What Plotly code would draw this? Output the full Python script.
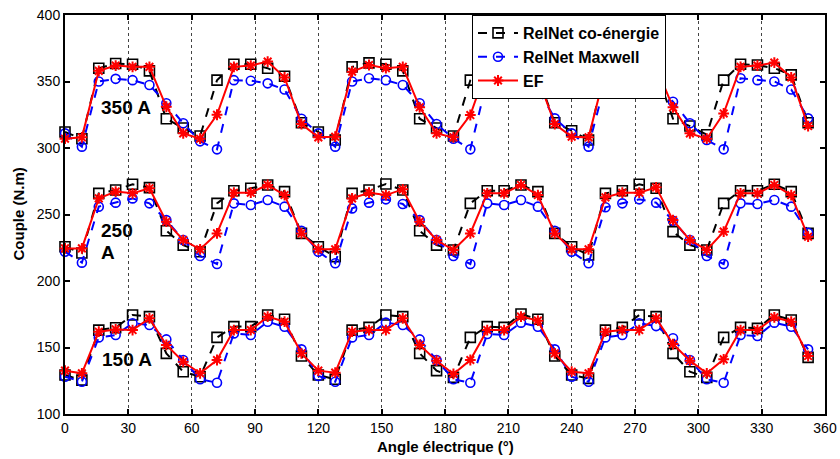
import plotly.graph_objects as go

angles = [0, 8, 16, 24, 32, 40, 48, 56, 64, 72, 80, 88, 96, 104, 112,
          120, 128, 136, 144, 152, 160, 168, 176, 184, 192, 200, 208, 216, 224, 232,
          240, 248, 256, 264, 272, 280, 288, 296, 304, 312, 320, 328, 336, 344, 352]

# 350 A
coen_350 = [312, 307, 360, 363.5, 363, 358, 322, 315, 309, 351, 363, 363, 360, 354, 319,
            312, 306, 361, 364, 363, 358, 322, 315, 309, 351, 363, 363, 360, 354, 319,
            313, 306, 361, 363, 363, 358, 322, 316.5, 310, 351, 363, 362.4, 360, 355, 319]
maxw_350 = [311, 301, 350, 352, 351, 347.4, 333.6, 318.6, 305, 299, 351, 350.6, 348.6, 344, 322,
            311, 301, 350, 352.4, 351, 347.4, 333.6, 318, 307, 299, 351, 350.6, 348.6, 344, 322.3,
            311, 301, 350, 352, 351, 347.4, 334.8, 318.6, 306, 299, 352.4, 351, 350, 344, 322.3]
ef_350 = [307, 308, 358, 362, 361, 361, 331, 311, 307, 325, 361, 362, 365, 353, 318,
          308, 308.5, 357.4, 362.4, 360, 361, 330.6, 311, 308, 324.8, 361, 362, 365, 353, 318,
          308.5, 308, 358, 362, 361, 361, 330.6, 311, 307, 326, 361, 362, 364.2, 353.1, 316.5]

# 250 A
coen_250 = [225.8, 221, 265.9, 268.4, 272.7, 270.2, 237.8, 227, 222, 258.4, 267.9, 269.7, 272.2, 267.2, 235.8,
            225.8, 218.3, 265.9, 268.4, 272.9, 268.4, 237.8, 227, 223.3, 258.4, 267.9, 267.9, 272.2, 267.2, 235.8,
            225.8, 219.5, 265.9, 267.9, 272.7, 269.7, 237.1, 227, 223.3, 258.4, 267.9, 267.9, 272.7, 267.2, 235.8]
maxw_250 = [222, 213.8, 255.9, 258.9, 262.1, 258.4, 245.8, 230.8, 218.8, 212.8, 258.4, 257.1, 260.9, 255.9, 237.8,
            222, 213.3, 254.6, 258.9, 261.4, 257.9, 245.8, 230.8, 218.8, 212.8, 258.4, 257.1, 260.9, 255.9, 237.8,
            222, 213.3, 255.4, 258.4, 261.4, 258.9, 245.3, 230.8, 218.8, 212.8, 258.4, 257.9, 260.9, 255.9, 236.3]
ef_250 = [224.5, 224.5, 262.1, 267.2, 265.9, 269.7, 244.6, 230.8, 223.8, 235.8, 266.4, 266.4, 272.2, 264.6, 235.8,
          223.8, 223.8, 262.1, 266.4, 264.6, 268.9, 244.6, 230.8, 223.3, 235.8, 265.9, 265.9, 272.2, 264.6, 235.8,
          223.8, 223.8, 262.9, 266.4, 266.4, 270.4, 245.8, 230.8, 223.3, 237.1, 265.9, 265.9, 272.2, 264.6, 233.3]

# 150 A
coen_150 = [129.3, 125.5, 163.1, 164.9, 174.4, 173.2, 145.6, 131.8, 128, 157.6, 165.7, 165.7, 174.4, 171.2, 143.6,
            129.3, 126.1, 163.1, 165.1, 174.4, 173.2, 145.6, 132.6, 127.5, 157.6, 165.7, 165.1, 175.2, 171.2, 143.6,
            129.3, 126.8, 163.1, 165.1, 174.4, 173.2, 145.6, 131.8, 127.5, 157.6, 165.1, 164.4, 174.4, 170.7, 142.6]
maxw_150 = [128, 124.3, 157.6, 159.4, 168.2, 166.9, 156.1, 140.6, 126.1, 123.5, 160.6, 159.4, 169.4, 165.6, 148.6,
            128.6, 124.3, 157.6, 159.4, 168.7, 166.9, 156.1, 140.6, 126.1, 123.5, 160.1, 159.4, 168.7, 165.6, 148.6,
            128, 124.3, 157.6, 159.4, 168.2, 166.1, 156.9, 140.6, 126.1, 123.5, 159.4, 158.6, 168.7, 165.6, 148.6]
ef_150 = [132.6, 130.6, 161.9, 163.6, 163.1, 171.9, 151.9, 139.3, 130.6, 140.6, 163.1, 163.1, 173.2, 169.4, 145.6,
          132.6, 131.1, 161.9, 163.1, 163.1, 171.9, 151.9, 140.1, 130.1, 140.6, 163.1, 163.1, 173.2, 170.2, 145.6,
          131.8, 130.6, 161.9, 163.1, 163.1, 171.9, 152.6, 140.1, 130.6, 141.1, 163.1, 163.1, 172.7, 169.4, 143.6]

series_names = ["RelNet co-énergie", "RelNet Maxwell", "EF"]
x_ticks = [0, 30, 60, 90, 120, 150, 180, 210, 240, 270, 300, 330, 360]
y_ticks = [100, 150, 200, 250, 300, 350, 400]

FONT = "Arial, Liberation Sans, sans-serif"

styles = {
    "RelNet co-énergie": dict(line=dict(color="black", width=2, dash="dash"),
                              marker=dict(symbol="square-open", size=10, color="black",
                                          line=dict(color="black", width=1.6))),
    "RelNet Maxwell": dict(line=dict(color="#0000FF", width=2, dash="dash"),
                           marker=dict(symbol="circle-open", size=9, color="#0000FF",
                                       line=dict(color="#0000FF", width=1.6))),
    "EF": dict(line=dict(color="#FF0000", width=2),
               marker=dict(symbol="asterisk-open", size=9, color="#FF0000",
                           line=dict(color="#FF0000", width=2))),
}

fig = go.Figure()
data_sets = [
    (coen_350, maxw_350, ef_350),
    (coen_250, maxw_250, ef_250),
    (coen_150, maxw_150, ef_150),
]
for k, trio in enumerate(data_sets):
    for name, vals in zip(series_names, trio):
        fig.add_trace(go.Scatter(
            x=angles, y=vals, mode="lines+markers", name=name,
            legendgroup=name, showlegend=(k == 0), cliponaxis=False,
            **styles[name]))

ann_font = dict(family=FONT, size=19, color="black", weight="bold")
fig.add_annotation(x=28.7, y=330.8, text="350 A", showarrow=False, font=ann_font)
fig.add_annotation(x=16.1, y=238.3, text="250", showarrow=False, font=ann_font, xanchor="left")
fig.add_annotation(x=16.1, y=221.8, text="A", showarrow=False, font=ann_font, xanchor="left")
fig.add_annotation(x=29.6, y=141.1, text="150 A", showarrow=False, font=ann_font)

# Plot area at x 65-825, y 15-414 of the 840x459 page
ML, MR, MT, MB = 65, 15, 15, 45
title_font = dict(family=FONT, size=15, color="black", weight="bold")
fig.add_annotation(xref="paper", yref="paper", x=(18 - ML) / 760, y=0.5, text="Couple (N.m)",
                   textangle=-90, showarrow=False, font=title_font, xanchor="center")
fig.add_annotation(xref="paper", yref="paper", x=0.5, y=-(446 - 414) / 399, text="Angle électrique (°)",
                   showarrow=False, font=title_font, yanchor="middle")

axis_common = dict(showline=True, linecolor="black", linewidth=2, mirror="ticks",
                   ticks="inside", ticklen=5, tickwidth=1.5, tickcolor="black",
                   tickfont=dict(family=FONT, size=14, color="black"), zeroline=False,
                   ticklabeloverflow="allow")

fig.update_xaxes(range=[0, 360], tickvals=x_ticks, ticktext=[str(v) for v in x_ticks],
                 showgrid=True, gridcolor="#444444", gridwidth=1, griddash="dot",
                 **axis_common)
fig.update_yaxes(range=[100, 400], tickvals=y_ticks, ticktext=[str(v) for v in y_ticks],
                 showgrid=False, **axis_common)

fig.update_layout(
    width=840, height=459,
    margin=dict(l=ML, r=MR, t=MT, b=MB, autoexpand=False),
    paper_bgcolor="white", plot_bgcolor="white",
    legend=dict(x=(472 - 65) / 760, y=1, xanchor="left", yanchor="top",
                bgcolor="white", bordercolor="black", borderwidth=1,
                font=dict(family=FONT, size=16, color="black", weight="bold"),
                itemwidth=40, tracegroupgap=0),
)

fig.write_html("out.html", config={"displayModeBar": False},
               post_script="document.body.style.margin='0';document.body.style.overflow='hidden';")
